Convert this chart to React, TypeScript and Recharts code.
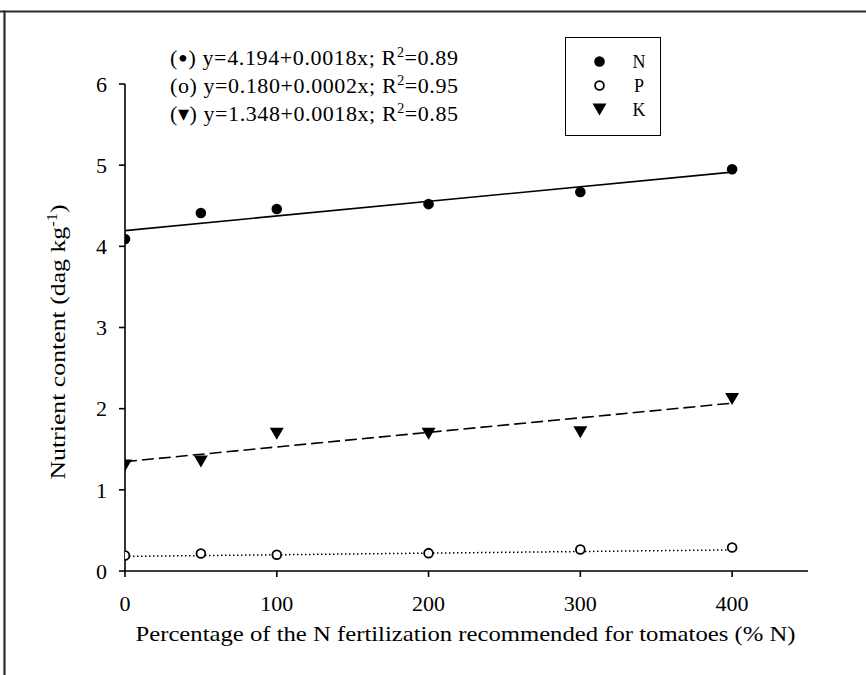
import React from 'react';
import { ScatterChart, Scatter, XAxis, YAxis, Legend, Label, Customized } from 'recharts';

// ---- data ----
const xLevels = [0, 50, 100, 200, 300, 400];
const nContent = [4.09, 4.41, 4.46, 4.52, 4.67, 4.95];
const pContent = [0.19, 0.215, 0.2, 0.22, 0.265, 0.29];
const kContent = [1.3, 1.35, 1.69, 1.69, 1.71, 2.12];

const fitX = [0, 400];
const nFit = [4.194, 4.914];
const pFit = [0.18, 0.26];
const kFit = [1.348, 2.068];

const xTicks = [0, 100, 200, 300, 400];
const yTicks = [0, 1, 2, 3, 4, 5, 6];
const seriesNames = ['N', 'P', 'K'];
const equationSymbols = ['•', 'o', '▾'];
const equationSymbolSizes = [28, 22, 22];
const equationSymbolShift = [3, 0, 0];
const equationBodies = ['y=4.194+0.0018x; R', 'y=0.180+0.0002x; R', 'y=1.348+0.0018x; R'];
const equationR2 = ['0.89', '0.95', '0.85'];

const xLabel = 'Percentage of the N fertilization recommended for tomatoes (% N)';
const yLabelMain = 'Nutrient content (dag kg';
const yLabelSup = '-1';

// ---- built tables ----
const toPoints = (xs: number[], ys: number[]) => xs.map((x, i) => ({ x, y: ys[i] }));
const nData = toPoints(xLevels, nContent);
const pData = toPoints(xLevels, pContent);
const kData = toPoints(xLevels, kContent);
const nFitData = toPoints(fitX, nFit);
const pFitData = toPoints(fitX, pFit);
const kFitData = toPoints(fitX, kFit);

const FONT = '"Liberation Serif", "Times New Roman", serif';

const FilledCircle = (props: any) => <circle cx={props.cx} cy={props.cy} r={5.3} fill="#000" />;
const OpenCircle = (props: any) => (
  <circle cx={props.cx} cy={props.cy} r={4.4} fill="#fff" stroke="#000" strokeWidth={1.8} />
);
const DownTriangle = (props: any) => (
  <path
    d={`M${props.cx - 7},${props.cy - 6}L${props.cx + 7},${props.cy - 6}L${props.cx},${props.cy + 6}Z`}
    fill="#000"
  />
);
const NoShape = () => <g />;

const Frame = () => (
  <g>
    <line x1={0} y1={11.5} x2={866} y2={11.5} stroke="#2a2a2a" strokeWidth={2.2} />
    <line x1={4.5} y1={10.5} x2={4.5} y2={675} stroke="#2a2a2a" strokeWidth={2.2} />
    {equationBodies.map((body, i) => (
      <text
        key={i}
        x={170}
        y={64.5 + i * 28.4}
        fontFamily={FONT}
        fontSize={22}
        fill="#000"
        textLength={288}
        lengthAdjust="spacing"
      >
        <tspan>(</tspan>
        <tspan fontSize={equationSymbolSizes[i]} dy={equationSymbolShift[i]}>
          {equationSymbols[i]}
        </tspan>
        <tspan dy={-equationSymbolShift[i]}>)</tspan>
        <tspan> {body}</tspan>
        <tspan fontSize={14} dy={-8}>2</tspan>
        <tspan dy={8}>={equationR2[i]}</tspan>
      </text>
    ))}
  </g>
);

const legendMarkers = [
  (x: number, y: number) => <circle cx={x} cy={y} r={5.3} fill="#000" />,
  (x: number, y: number) => <circle cx={x} cy={y} r={4.4} fill="#fff" stroke="#000" strokeWidth={1.8} />,
  (x: number, y: number) => <path d={`M${x - 7},${y - 6}L${x + 7},${y - 6}L${x},${y + 6}Z`} fill="#000" />,
];

const LegendBox = (props: any) => {
  const items = (props.payload || [])
    .filter((p: any) => seriesNames.includes(p.value))
    .sort((a: any, b: any) => seriesNames.indexOf(a.value) - seriesNames.indexOf(b.value));
  return (
    <div
      style={{
        position: 'relative',
        width: 96,
        height: 99,
        border: '1.6px solid #000',
        boxSizing: 'border-box',
        background: '#fff',
      }}
    >
      <svg width={94} height={97} style={{ position: 'absolute', left: 0, top: 0 }}>
        {items.map((it: any, i: number) => {
          const idx = seriesNames.indexOf(it.value);
          const y = 23.5 + i * 24;
          return (
            <g key={it.value}>
              {legendMarkers[idx](33.5, y)}
              <text x={73} y={y + 6.5} textAnchor="middle" fontFamily={FONT} fontSize={18} fill="#000">
                {it.value}
              </text>
            </g>
          );
        })}
      </svg>
    </div>
  );
};

const XLabelContent = (props: any) => {
  const vb = props.viewBox || {};
  return (
    <text
      x={vb.x + vb.width / 2 - 1}
      y={vb.y + 70}
      textAnchor="middle"
      fontFamily={FONT}
      fontSize={22}
      fill="#000"
      textLength={660}
      lengthAdjust="spacingAndGlyphs"
    >
      {xLabel}
    </text>
  );
};

const YLabelContent = () => {
  const x = 65;
  const y = 342;
  return (
    <text
      x={x}
      y={y}
      transform={`rotate(-90 ${x} ${y})`}
      textAnchor="middle"
      fontFamily={FONT}
      fontSize={22}
      fill="#000"
      textLength={275}
      lengthAdjust="spacingAndGlyphs"
    >
      <tspan>{yLabelMain}</tspan>
      <tspan fontSize={14} dy={-8}>{yLabelSup}</tspan>
      <tspan dy={8}>)</tspan>
    </text>
  );
};

export default function App() {
  const axisLine = { stroke: '#000', strokeWidth: 1.6 };
  const tick = { fontFamily: FONT, fontSize: 22, fill: '#000' };
  return (
    <div style={{ position: 'absolute', left: 0, top: 0, width: 866, height: 675, background: '#fff' }}>
      <ScatterChart width={866} height={675} margin={{ top: 84, right: 58, bottom: 44, left: 0 }}>
        <Customized component={Frame} />
        <XAxis
          type="number"
          dataKey="x"
          domain={[0, 450]}
          ticks={xTicks}
          allowDataOverflow
          height={60}
          axisLine={axisLine}
          tickLine={axisLine}
          tickSize={6}
          tickMargin={18}
          tick={tick}
        >
          <Label content={<XLabelContent />} />
        </XAxis>
        <YAxis
          type="number"
          domain={[0, 6]}
          ticks={yTicks}
          allowDataOverflow
          width={125}
          axisLine={axisLine}
          tickLine={axisLine}
          tickSize={6}
          tickMargin={12}
          tick={tick}
        >
          <Label content={<YLabelContent />} />
        </YAxis>
        <Legend
          layout="horizontal"
          verticalAlign="middle"
          align="center"
          content={<LegendBox />}
          wrapperStyle={{ position: 'absolute', left: 565, top: 37, width: 96, height: 99 }}
        />
        <Scatter
          name="N fit"
          data={nFitData}
          dataKey="y"
          legendType="none"
          line={{ stroke: '#000', strokeWidth: 1.6 }}
          shape={NoShape}
          isAnimationActive={false}
        />
        <Scatter
          name="K fit"
          data={kFitData}
          dataKey="y"
          legendType="none"
          line={{ stroke: '#000', strokeWidth: 1.6, strokeDasharray: '12 5' }}
          shape={NoShape}
          isAnimationActive={false}
        />
        <Scatter
          name="P fit"
          data={pFitData}
          dataKey="y"
          legendType="none"
          line={{ stroke: '#000', strokeWidth: 1.5, strokeDasharray: '1.5 2.5' }}
          shape={NoShape}
          isAnimationActive={false}
        />
        <Scatter name="N" data={nData} dataKey="y" fill="#000" shape={FilledCircle} isAnimationActive={false} />
        <Scatter name="P" data={pData} dataKey="y" fill="#fff" shape={OpenCircle} isAnimationActive={false} />
        <Scatter name="K" data={kData} dataKey="y" fill="#000" shape={DownTriangle} isAnimationActive={false} />
      </ScatterChart>
    </div>
  );
}
